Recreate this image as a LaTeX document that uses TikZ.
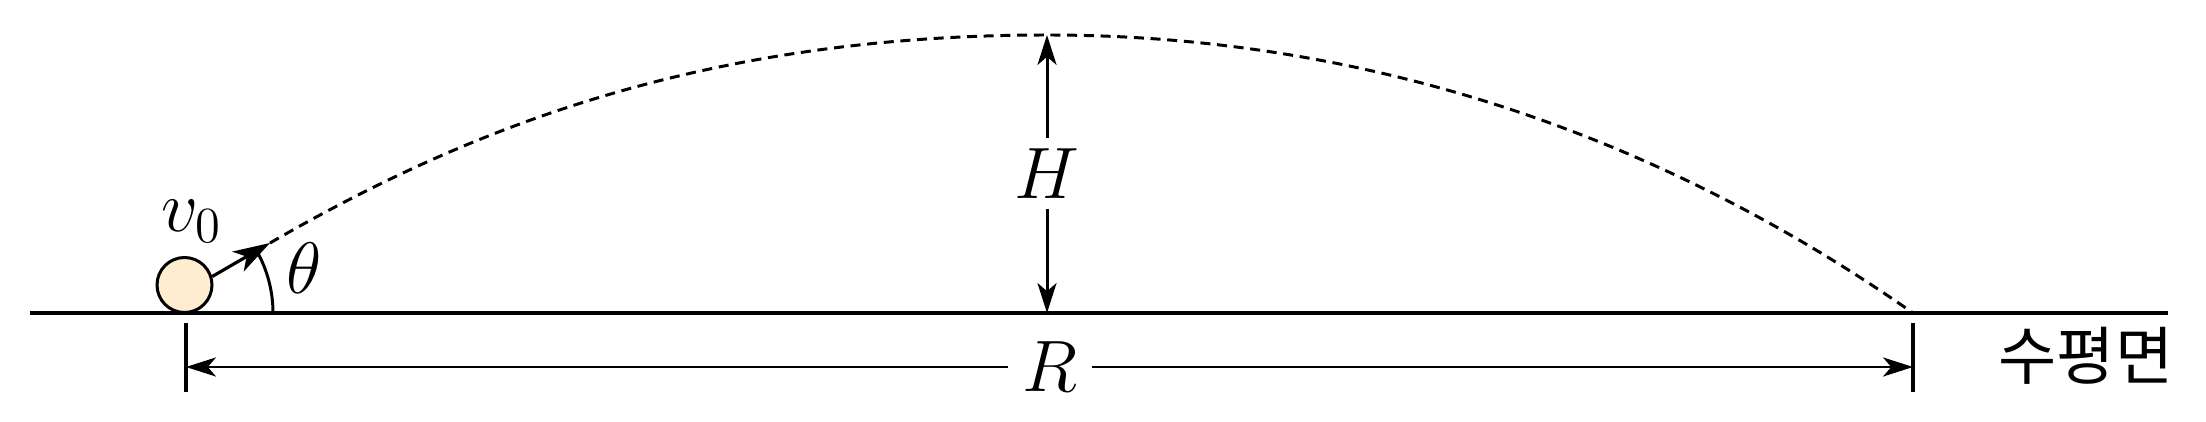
\documentclass[tikz,border=0pt]{standalone}
\usepackage{fontspec}
\newfontfamily\krfont{Noto Sans CJK KR}
\usetikzlibrary{arrows.meta}
\definecolor{ballfill}{RGB}{254,237,208}
\begin{document}
\begin{tikzpicture}[x=0.1mm,y=-0.1mm,
  every node/.style={font=\fontsize{20}{24}\selectfont},
  lbl/.style={inner xsep=4pt, inner ysep=2.8pt},
  ln/.style={line width=0.95pt},
  arr/.style={line width=0.85pt,-{Stealth[length=8.5pt,width=5.4pt,inset=2.3pt]}},
  varr/.style={line width=0.9pt,-{Stealth[length=10.5pt,width=6.5pt,inset=2.8pt]}},
  traj/.style={line width=0.85pt,dash pattern=on 2.85pt off 1.9pt},
  ballstyle/.style={circle,draw,line width=0.85pt,fill=ballfill,minimum size=5.5mm,inner sep=0pt},
]
\useasboundingbox (0,0) rectangle (2206,422);
% ground
\coordinate (gL) at (30,313);
\coordinate (gR) at (2168,313);
\draw[ln] (gL) -- (gR);
% key points
\coordinate (O) at (146.5,313);
\coordinate (tip) at (270,243);
\coordinate (peak) at (1047,35);
\coordinate (land) at (1913,313);
\coordinate (foot) at (1047,313);
% trajectory
\draw[traj] (tip) .. controls (462,132) and (697,35) .. (peak)
                  .. controls (1347,35) and (1643,124) .. (land);
% ball and velocity
\node[ballstyle] (ball) at (184.5,285) {};
\draw[varr] (ball.17) -- (tip);
\node[font=\fontsize{22.5}{26}\selectfont] (v0) at (192,221) {$v_0$};
% angle
\draw[line width=0.85pt] (273,313) arc[start angle=0,end angle=-29.5,radius=126.5];
\node[font=\fontsize{21}{25}\selectfont] (theta) at (304,268) {$\theta$};
% height
\node[lbl] (H) at (1047,173.5) {$H$};
\draw[arr] (H) -- (peak);
\draw[arr] (H) -- (foot);
% range
\coordinate (t1a) at (186,323);
\coordinate (t1b) at (186,392);
\coordinate (t2a) at (1913,323);
\coordinate (t2b) at (1913,392);
\draw[ln] (t1a) -- (t1b);
\draw[ln] (t2a) -- (t2b);
\coordinate (Ra) at (186,367);
\coordinate (Rb) at (1913,367);
\node[lbl] (R) at (1050,367) {$R$};
\draw[arr] (R) -- (Ra);
\draw[arr] (R) -- (Rb);
% plane label
\node[font=\krfont\fontsize{18}{22}\selectfont] (plane) at (2086,356) {수평면};
\end{tikzpicture}
\end{document}
